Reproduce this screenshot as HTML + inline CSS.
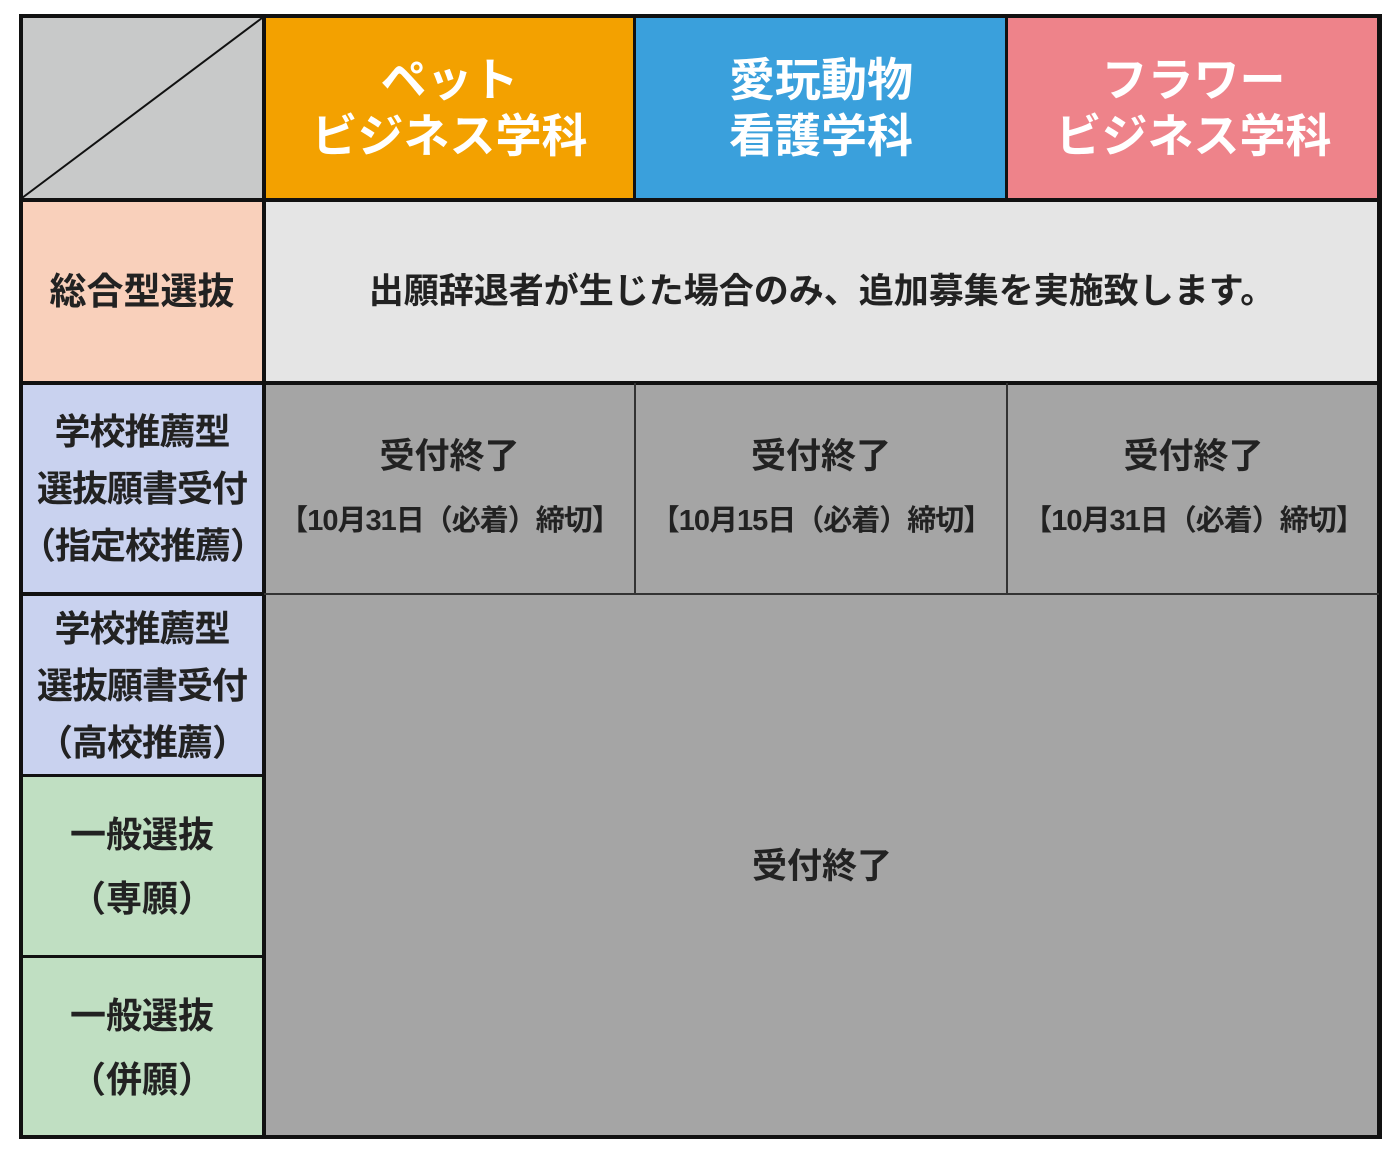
<!DOCTYPE html>
<html><head><meta charset="utf-8"><style>
body{margin:0;width:1400px;height:1154px;background:#fff;position:relative;overflow:hidden;font-family:"Liberation Sans","Noto Sans CJK JP",sans-serif;font-weight:bold}
.c{position:absolute;display:flex;align-items:center;justify-content:center;text-align:center;box-sizing:border-box}
.l{position:absolute;background:#111}
.h{color:#fff;font-size:46px;line-height:56px}
.s{color:#222;font-size:35px;line-height:57px}
.d{font-size:29px;letter-spacing:-1px;white-space:nowrap}
</style></head><body>
<div class="c" style="left:20px;top:16px;width:244px;height:184px;background:#c8c9c9"></div>
<div class="c h" style="left:264px;top:16px;width:371px;height:184px;background:#f3a100"><div>ペット<br>ビジネス学科</div></div>
<div class="c h" style="left:635px;top:16px;width:372px;height:184px;background:#3aa0dc"><div>愛玩動物<br>看護学科</div></div>
<div class="c h" style="left:1007px;top:16px;width:373px;height:184px;background:#ee838a"><div>フラワー<br>ビジネス学科</div></div>
<div class="c s" style="left:20px;top:200px;width:244px;height:183px;background:#f9d0bb;font-size:37px">総合型選抜</div>
<div class="c s" style="left:264px;top:200px;width:1116px;height:183px;background:#e5e5e5;font-size:35px">出願辞退者が生じた場合のみ、追加募集を実施致します。</div>
<div class="c s" style="left:20px;top:383px;width:244px;height:211px;background:#c9d2ef;font-size:36px;letter-spacing:-1px"><div>学校推薦型<br>選抜願書受付<br>（指定校推薦）</div></div>
<div class="c s" style="left:20px;top:594px;width:244px;height:182px;background:#c9d2ef;font-size:36px;letter-spacing:-1px"><div>学校推薦型<br>選抜願書受付<br>（高校推薦）</div></div>
<div class="c s" style="left:20px;top:776px;width:244px;height:181px;background:#c0dfc2;line-height:64px;font-size:36px"><div>一般選抜<br>（専願）</div></div>
<div class="c s" style="left:20px;top:957px;width:244px;height:181px;background:#c0dfc2;line-height:64px;font-size:36px"><div>一般選抜<br>（併願）</div></div>
<div class="c" style="left:264px;top:383px;width:1116px;height:755px;background:#a5a5a5"></div>
<div class="c s" style="left:264px;top:383px;width:371px;height:211px;line-height:62px"><div>受付終了<br><span class="d">【10月31日（必着）締切】</span></div></div>
<div class="c s" style="left:635px;top:383px;width:372px;height:211px;line-height:62px"><div>受付終了<br><span class="d">【10月15日（必着）締切】</span></div></div>
<div class="c s" style="left:1007px;top:383px;width:373px;height:211px;line-height:62px"><div>受付終了<br><span class="d">【10月31日（必着）締切】</span></div></div>
<div class="c s" style="left:264px;top:594px;width:1116px;height:544px">受付終了</div>
<svg style="position:absolute;left:0;top:0" width="1400" height="1154"><line x1="22" y1="198" x2="262" y2="18" stroke="#111" stroke-width="2"/></svg>
<div class="l" style="left:19px;top:14px;width:1363px;height:4px"></div>
<div class="l" style="left:19px;top:1135px;width:1363px;height:4px"></div>
<div class="l" style="left:19px;top:14px;width:4px;height:1125px"></div>
<div class="l" style="left:1377px;top:14px;width:5px;height:1125px"></div>
<div class="l" style="left:262px;top:14px;width:4px;height:1125px"></div>
<div class="l" style="left:19px;top:198px;width:1363px;height:4px"></div>
<div class="l" style="left:19px;top:381px;width:1363px;height:4px"></div>
<div class="l" style="left:264px;top:593px;width:1115px;height:2px;background:#333"></div>
<div class="l" style="left:19px;top:592px;width:245px;height:4px"></div>
<div class="l" style="left:19px;top:774px;width:245px;height:3px"></div>
<div class="l" style="left:19px;top:955px;width:245px;height:3px"></div>
<div class="l" style="left:633px;top:14px;width:3px;height:186px"></div>
<div class="l" style="left:1005px;top:14px;width:3px;height:186px"></div>
<div class="l" style="left:634px;top:383px;width:2px;height:211px;background:#333"></div>
<div class="l" style="left:1006px;top:383px;width:2px;height:211px;background:#333"></div>
</body></html>
